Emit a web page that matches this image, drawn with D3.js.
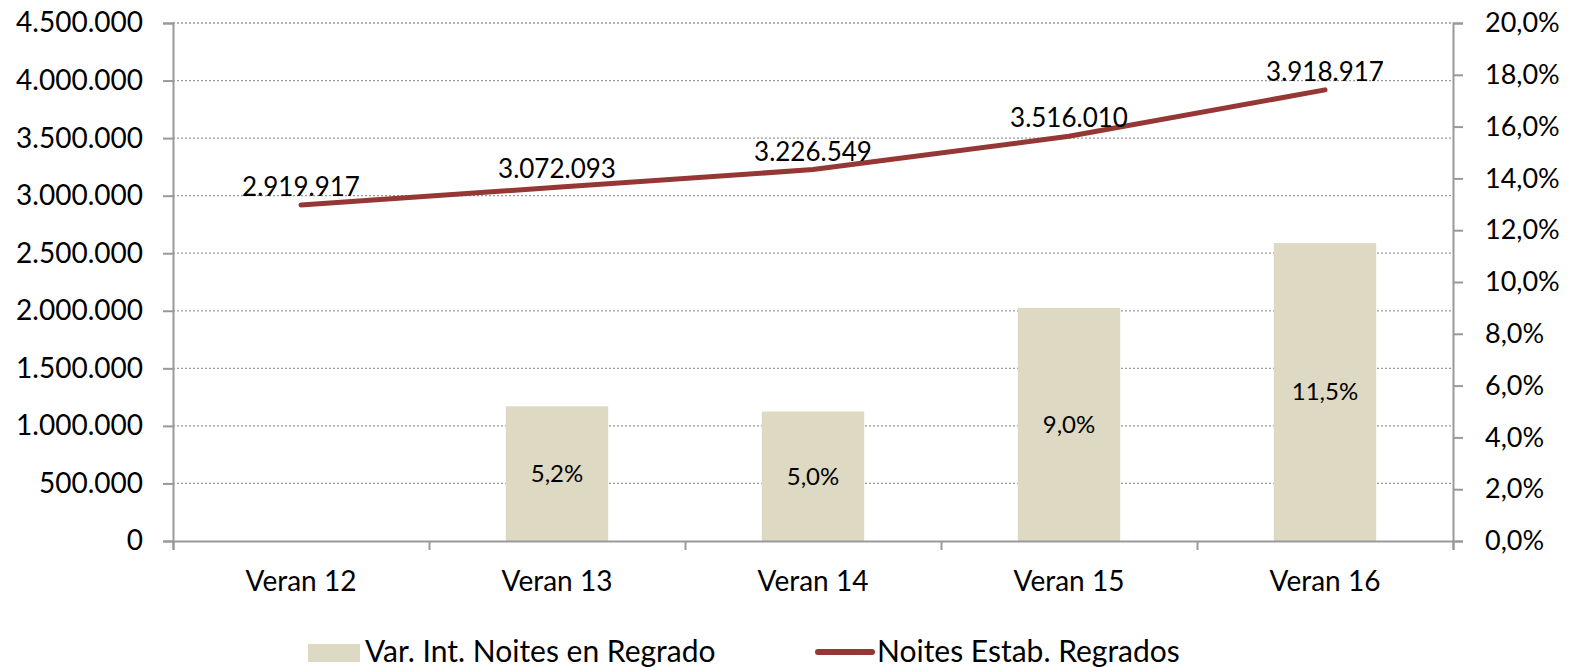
<!DOCTYPE html>
<html>
<head>
<meta charset="utf-8">
<script src="https://cdn.jsdelivr.net/npm/d3@7"></script>
<style>
  body { margin: 0; background: #fff; }
  svg text { font-family: Lato, "Open Sans", sans-serif; fill: #000; }
</style>
</head>
<body>
<div id="chart"></div>
<script>
// Datos
const categories = ["Veran 12", "Veran 13", "Veran 14", "Veran 15", "Veran 16"];
const barValues = [null, 0.052, 0.050, 0.090, 0.115];
const lineValues = [2919917, 3072093, 3226549, 3516010, 3918917];
const leftTicks = [0, 500000, 1000000, 1500000, 2000000, 2500000, 3000000, 3500000, 4000000, 4500000];
const rightTicks = [0, 0.02, 0.04, 0.06, 0.08, 0.10, 0.12, 0.14, 0.16, 0.18, 0.20];
const barName = "Var. Int. Noites en Regrado";
const lineName = "Noites Estab. Regrados";

const W = 1576, H = 667;
const margin = { top: 23, right: 123, bottom: 126, left: 173 };
const iw = W - margin.left - margin.right;
const ih = H - margin.top - margin.bottom;

const BAR_COLOR = "#ddd9c3";
const LINE_COLOR = "#953735";
const AXIS_COLOR = "#999";

const fmtInt = v => d3.format(",")(v).replace(/,/g, ".");
const fmtPct = v => d3.format(".1f")(v * 100).replace(".", ",") + "%";

const svg = d3.select("#chart").append("svg")
  .attr("width", W)
  .attr("height", H);

const g = svg.append("g")
  .attr("transform", `translate(${margin.left},${margin.top})`);

const x = d3.scaleBand().domain(categories).range([0, iw]).paddingInner(0.6).paddingOuter(0.3);
const xCenter = c => x(c) + x.bandwidth() / 2;
const yL = d3.scaleLinear().domain([0, 4500000]).range([ih, 0]);
const yR = d3.scaleLinear().domain([0, 0.20]).range([ih, 0]);

// Gridlines
g.append("g")
  .selectAll("line")
  .data(leftTicks.slice(1))
  .join("line")
  .attr("x1", 0).attr("x2", iw)
  .attr("y1", d => yL(d)).attr("y2", d => yL(d))
  .attr("stroke", "#999").attr("stroke-width", 1.3)
  .attr("stroke-dasharray", "2,2");

// Bars
const barData = categories.map((c, i) => ({ c, v: barValues[i] })).filter(d => d.v != null);
g.append("g")
  .selectAll("rect")
  .data(barData)
  .join("rect")
  .attr("x", d => x(d.c))
  .attr("width", x.bandwidth())
  .attr("y", d => yR(d.v))
  .attr("height", d => ih - yR(d.v))
  .attr("fill", BAR_COLOR);

g.append("g")
  .selectAll("text")
  .data(barData)
  .join("text")
  .attr("x", d => xCenter(d.c))
  .attr("y", d => (yR(d.v) + ih) / 2)
  .attr("dy", "0.35em")
  .attr("text-anchor", "middle")
  .style("font-size", "24px")
  .text(d => fmtPct(d.v));

// Axes
const axisLeft = g.append("g")
  .call(d3.axisLeft(yL).tickValues(leftTicks).tickSize(10).tickPadding(20).tickFormat(fmtInt));
const axisRight = g.append("g")
  .attr("transform", `translate(${iw},0)`)
  .call(d3.axisRight(yR).tickValues(rightTicks).tickSize(10).tickPadding(22).tickFormat(fmtPct));
const axisBottom = g.append("g")
  .attr("transform", `translate(0,${ih})`)
  .call(d3.axisBottom(d3.scaleLinear().domain([0, 5]).range([0, iw]))
    .tickValues(d3.range(0, 6)).tickSize(9).tickFormat(""));

[axisLeft, axisRight, axisBottom].forEach(a => {
  a.select(".domain").attr("stroke", AXIS_COLOR).attr("stroke-width", 2);
  a.selectAll(".tick line").attr("stroke", AXIS_COLOR).attr("stroke-width", 2);
  a.selectAll(".tick text").style("font-size", "28px").attr("fill", "#000");
});
axisRight.selectAll(".tick text").style("font-size", "27px");

// Category labels
g.append("g")
  .selectAll("text")
  .data(categories)
  .join("text")
  .attr("x", d => xCenter(d))
  .attr("y", ih + 40)
  .attr("dy", "0.35em")
  .attr("text-anchor", "middle")
  .style("font-size", "28px")
  .text(d => d);

// Line
const line = d3.line()
  .x((d, i) => xCenter(categories[i]))
  .y(d => yL(d));

g.append("path")
  .datum(lineValues)
  .attr("d", line)
  .attr("fill", "none")
  .attr("stroke", LINE_COLOR)
  .attr("stroke-width", 5)
  .attr("stroke-linecap", "round");

g.append("g")
  .selectAll("text")
  .data(lineValues)
  .join("text")
  .attr("x", (d, i) => xCenter(categories[i]))
  .attr("y", d => yL(d) - 18)
  .attr("dy", "0.35em")
  .attr("text-anchor", "middle")
  .style("font-size", "26px")
  .text(d => fmtInt(d));

// Legend
const lg = svg.append("g").attr("transform", "translate(0,662)");
lg.append("rect")
  .attr("x", 308).attr("y", -18)
  .attr("width", 52).attr("height", 18)
  .attr("fill", BAR_COLOR);
lg.append("text")
  .attr("x", 365).attr("y", 0)
  .style("font-size", "30px")
  .text(barName);
lg.append("line")
  .attr("x1", 818).attr("x2", 872)
  .attr("y1", -10).attr("y2", -10)
  .attr("stroke", LINE_COLOR).attr("stroke-width", 6)
  .attr("stroke-linecap", "round");
lg.append("text")
  .attr("x", 877).attr("y", 0)
  .style("font-size", "30px")
  .text(lineName);
</script>
</body>
</html>
